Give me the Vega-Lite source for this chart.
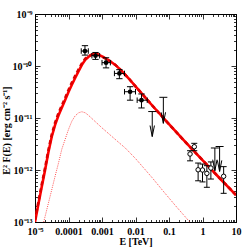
{
  "$schema": "https://vega.github.io/schema/vega-lite/v6.json",
  "autosize": {"type": "none"},
  "padding": {"left": 35, "top": 14, "right": 13, "bottom": 27},
  "width": 201,
  "height": 208,
  "background": "white",
  "config": {
    "view": {"stroke": "black", "strokeWidth": 1},
    "axis": {
      "labelFont": "Liberation Serif", "labelFontWeight": "bold", "labelFontSize": 10, "labelColor": "black",
      "titleFont": "Liberation Serif", "titleFontWeight": "bold", "titleFontSize": 10, "titleColor": "black",
      "domainColor": "black", "tickColor": "black", "tickWidth": 0.8, "grid": false,
      "labelOverlap": false, "labelFlush": false, "labelBound": false
    }
  },
  "datasets": {
    "curves": [
      {"m": "total", "E": 1e-5, "F": 1.0e-13},
      {"m": "total", "E": 1.26e-5, "F": 2.19e-13},
      {"m": "total", "E": 1.58e-5, "F": 4.68e-13},
      {"m": "total", "E": 2.0e-5, "F": 1.0e-12},
      {"m": "total", "E": 2.51e-5, "F": 2.19e-12},
      {"m": "total", "E": 3.16e-5, "F": 4.37e-12},
      {"m": "total", "E": 3.98e-5, "F": 7.4e-12},
      {"m": "total", "E": 5.01e-5, "F": 1.12e-11},
      {"m": "total", "E": 6.31e-5, "F": 1.58e-11},
      {"m": "total", "E": 7.94e-5, "F": 2.22e-11},
      {"m": "total", "E": 1.0e-4, "F": 3.16e-11},
      {"m": "total", "E": 1.26e-4, "F": 4.37e-11},
      {"m": "total", "E": 1.58e-4, "F": 5.89e-11},
      {"m": "total", "E": 2.0e-4, "F": 7.94e-11},
      {"m": "total", "E": 2.51e-4, "F": 1.05e-10},
      {"m": "total", "E": 3.16e-4, "F": 1.32e-10},
      {"m": "total", "E": 3.98e-4, "F": 1.51e-10},
      {"m": "total", "E": 5.01e-4, "F": 1.66e-10},
      {"m": "total", "E": 6.31e-4, "F": 1.70e-10},
      {"m": "total", "E": 7.94e-4, "F": 1.64e-10},
      {"m": "total", "E": 1.0e-3, "F": 1.53e-10},
      {"m": "total", "E": 1.58e-3, "F": 1.29e-10},
      {"m": "total", "E": 2.51e-3, "F": 1.05e-10},
      {"m": "total", "E": 3.98e-3, "F": 7.9e-11},
      {"m": "total", "E": 6.31e-3, "F": 5.75e-11},
      {"m": "total", "E": 1.0e-2, "F": 4.07e-11},
      {"m": "total", "E": 3.16e-2, "F": 1.74e-11},
      {"m": "total", "E": 0.1, "F": 7.6e-12},
      {"m": "total", "E": 0.316, "F": 3.39e-12},
      {"m": "total", "E": 1.0, "F": 1.55e-12},
      {"m": "total", "E": 3.16, "F": 7.1e-13},
      {"m": "total", "E": 10.0, "F": 3.3e-13},
      {"m": "dash", "E": 1e-5, "F": 1.1e-13},
      {"m": "dash", "E": 1.26e-5, "F": 2.4e-13},
      {"m": "dash", "E": 1.58e-5, "F": 5.13e-13},
      {"m": "dash", "E": 2.0e-5, "F": 1.1e-12},
      {"m": "dash", "E": 2.51e-5, "F": 2.4e-12},
      {"m": "dash", "E": 3.16e-5, "F": 4.8e-12},
      {"m": "dash", "E": 3.98e-5, "F": 8.1e-12},
      {"m": "dash", "E": 5.01e-5, "F": 1.23e-11},
      {"m": "dash", "E": 6.31e-5, "F": 1.73e-11},
      {"m": "dash", "E": 7.94e-5, "F": 2.43e-11},
      {"m": "dash", "E": 1.0e-4, "F": 3.46e-11},
      {"m": "dash", "E": 1.26e-4, "F": 4.79e-11},
      {"m": "dash", "E": 1.58e-4, "F": 6.45e-11},
      {"m": "dash", "E": 2.0e-4, "F": 8.6e-11},
      {"m": "dash", "E": 2.51e-4, "F": 1.12e-10},
      {"m": "dash", "E": 3.16e-4, "F": 1.38e-10},
      {"m": "dash", "E": 3.98e-4, "F": 1.55e-10},
      {"m": "dash", "E": 5.01e-4, "F": 1.67e-10},
      {"m": "dash", "E": 6.31e-4, "F": 1.70e-10},
      {"m": "dash", "E": 7.94e-4, "F": 1.64e-10},
      {"m": "dash", "E": 1.0e-3, "F": 1.53e-10},
      {"m": "dash", "E": 1.58e-3, "F": 1.29e-10},
      {"m": "dash", "E": 2.51e-3, "F": 1.05e-10},
      {"m": "dash", "E": 3.98e-3, "F": 7.9e-11},
      {"m": "dash", "E": 6.31e-3, "F": 5.75e-11},
      {"m": "dash", "E": 1.0e-2, "F": 4.07e-11},
      {"m": "dash", "E": 3.16e-2, "F": 1.74e-11},
      {"m": "dash", "E": 0.1, "F": 7.6e-12},
      {"m": "dash", "E": 0.316, "F": 3.39e-12},
      {"m": "dash", "E": 1.0, "F": 1.55e-12},
      {"m": "dash", "E": 3.16, "F": 7.1e-13},
      {"m": "dash", "E": 10.0, "F": 3.3e-13},
      {"m": "dot", "E": 1.82e-5, "F": 1.0e-13},
      {"m": "dot", "E": 2.51e-5, "F": 2.29e-13},
      {"m": "dot", "E": 3.16e-5, "F": 4.17e-13},
      {"m": "dot", "E": 3.98e-5, "F": 7.59e-13},
      {"m": "dot", "E": 5.01e-5, "F": 1.35e-12},
      {"m": "dot", "E": 6.31e-5, "F": 2.51e-12},
      {"m": "dot", "E": 7.94e-5, "F": 3.89e-12},
      {"m": "dot", "E": 1.0e-4, "F": 6.03e-12},
      {"m": "dot", "E": 1.26e-4, "F": 8.71e-12},
      {"m": "dot", "E": 1.58e-4, "F": 1.10e-11},
      {"m": "dot", "E": 2.0e-4, "F": 1.26e-11},
      {"m": "dot", "E": 2.51e-4, "F": 1.32e-11},
      {"m": "dot", "E": 3.16e-4, "F": 1.26e-11},
      {"m": "dot", "E": 3.98e-4, "F": 1.12e-11},
      {"m": "dot", "E": 6.31e-4, "F": 8.5e-12},
      {"m": "dot", "E": 1.0e-3, "F": 6.46e-12},
      {"m": "dot", "E": 1.78e-3, "F": 4.68e-12},
      {"m": "dot", "E": 3.16e-3, "F": 3.39e-12},
      {"m": "dot", "E": 5.01e-3, "F": 2.63e-12},
      {"m": "dot", "E": 1.0e-2, "F": 1.66e-12},
      {"m": "dot", "E": 3.16e-2, "F": 7.08e-13},
      {"m": "dot", "E": 6.31e-2, "F": 4.12e-13},
      {"m": "dot", "E": 0.158, "F": 2.04e-13},
      {"m": "dot", "E": 0.417, "F": 1.0e-13}
    ],
    "pts": [
      {"E": 3.1e-4, "F": 1.94e-10, "Elo": 2.4e-4, "Ehi": 3.9e-4, "Flo": 1.62e-10, "Fhi": 2.46e-10},
      {"E": 6.4e-4, "F": 1.58e-10, "Elo": 5.0e-4, "Ehi": 8.5e-4, "Flo": 1.34e-10, "Fhi": 1.82e-10},
      {"E": 1.32e-3, "F": 1.16e-10, "Elo": 1.0e-3, "Ehi": 1.78e-3, "Flo": 9.2e-11, "Fhi": 1.44e-10},
      {"E": 3.3e-3, "F": 7.2e-11, "Elo": 2.35e-3, "Ehi": 4.7e-3, "Flo": 5.7e-11, "Fhi": 8.5e-11},
      {"E": 6.9e-3, "F": 3.2e-11, "Elo": 4.7e-3, "Ehi": 1.0e-2, "Flo": 2.2e-11, "Fhi": 4.0e-11},
      {"E": 1.51e-2, "F": 2.2e-11, "Elo": 1.12e-2, "Ehi": 2.24e-2, "Flo": 1.56e-11, "Fhi": 2.9e-11}
    ],
    "opts": [
      {"E": 0.425, "F": 2.03e-12, "Flo": 1.5e-12, "Fhi": 2.35e-12},
      {"E": 0.569, "F": 2.8e-12, "Flo": 2.35e-12, "Fhi": 3.26e-12},
      {"E": 0.74, "F": 1.01e-12, "Flo": 6.2e-13, "Fhi": 1.36e-12},
      {"E": 1.0, "F": 1.0e-12, "Flo": 5.9e-13, "Fhi": 1.3e-12},
      {"E": 1.35, "F": 8.6e-13, "Flo": 4.65e-13, "Fhi": 1.21e-12},
      {"E": 1.78, "F": 1.09e-12, "Flo": 6.7e-13, "Fhi": 1.43e-12},
      {"E": 4.28, "F": 7.57e-13, "Flo": 3.56e-13, "Fhi": 1.16e-12}
    ],
    "uls": [
      {"E": 0.0316, "Ftop": 1.33e-11, "Ftip": 4.4e-12},
      {"E": 0.0678, "Ftop": 2.5e-11, "Ftip": 7.9e-12},
      {"E": 2.34, "Ftop": 2.65e-12, "Ftip": 9.7e-13},
      {"E": 3.24, "Ftop": 2.83e-12, "Ftip": 9.4e-13}
    ]
  },
  "resolve": {"axis": {"x": "independent", "y": "independent"}},
  "layer": [
    {
      "data": {"name": "curves"},
      "transform": [{"filter": "datum.m == 'dot'"}],
      "mark": {"type": "line", "color": "#ff0000", "opacity": 0.7, "strokeWidth": 1, "strokeDash": [1, 1.2], "clip": true},
      "encoding": {
        "x": {"field": "E", "type": "quantitative",
          "scale": {"type": "log", "domain": [1e-5, 10], "nice": false},
          "axis": {"orient": "bottom", "title": "E [TeV]", "titleY": 19, "titleBaseline": "middle",
            "labelPadding": 9,
            "values": [1e-5,2e-5,3e-5,4e-5,5e-5,6e-5,7e-5,8e-5,9e-5,1e-4,2e-4,3e-4,4e-4,5e-4,6e-4,7e-4,8e-4,9e-4,1e-3,2e-3,3e-3,4e-3,5e-3,6e-3,7e-3,8e-3,9e-3,0.01,0.02,0.03,0.04,0.05,0.06,0.07,0.08,0.09,0.1,0.2,0.3,0.4,0.5,0.6,0.7,0.8,0.9,1,2,3,4,5,6,7,8,9,10],
            "labelExpr": "abs(log(datum.value)/LN10 - round(log(datum.value)/LN10)) > 0.001 ? '' : (datum.value < 5e-5 ? '10⁻⁵' : format(datum.value, '~g'))",
            "tickSize": {"condition": {"test": "abs(log(datum.value)/LN10 - round(log(datum.value)/LN10)) < 0.001", "value": -5}, "value": -2.5}
          }},
        "y": {"field": "F", "type": "quantitative",
          "scale": {"type": "log", "domain": [1e-13, 1e-9], "nice": false},
          "axis": {"orient": "left", "title": "E² F(E) [erg cm⁻² s⁻¹]", "titleX": -29, "titleY": 116, "titleAngle": 270, "titleBaseline": "middle", "titleAlign": "center",
            "labelPadding": 8,
            "values": [1e-13,2e-13,3e-13,4e-13,5e-13,6e-13,7e-13,8e-13,9e-13,1e-12,2e-12,3e-12,4e-12,5e-12,6e-12,7e-12,8e-12,9e-12,1e-11,2e-11,3e-11,4e-11,5e-11,6e-11,7e-11,8e-11,9e-11,1e-10,2e-10,3e-10,4e-10,5e-10,6e-10,7e-10,8e-10,9e-10,1e-9],
            "labelExpr": "abs(log(datum.value)/LN10 - round(log(datum.value)/LN10)) > 0.001 ? '' : (round(log(datum.value)/LN10) == -9 ? '10⁻⁹' : round(log(datum.value)/LN10) == -10 ? '10⁻¹⁰' : round(log(datum.value)/LN10) == -11 ? '10⁻¹¹' : round(log(datum.value)/LN10) == -12 ? '10⁻¹²' : '10⁻¹³')",
            "tickSize": {"condition": {"test": "abs(log(datum.value)/LN10 - round(log(datum.value)/LN10)) < 0.001", "value": -5}, "value": -2.5}
          }}
      }
    },
    {
      "data": {"name": "curves"},
      "transform": [{"filter": "datum.m == 'total'"}],
      "mark": {"type": "line", "color": "#ff0000", "strokeWidth": 2.6, "clip": true},
      "encoding": {
        "x": {"field": "E", "type": "quantitative",
          "axis": {"orient": "top", "title": null, "labels": false,
            "values": [1e-5,2e-5,3e-5,4e-5,5e-5,6e-5,7e-5,8e-5,9e-5,1e-4,2e-4,3e-4,4e-4,5e-4,6e-4,7e-4,8e-4,9e-4,1e-3,2e-3,3e-3,4e-3,5e-3,6e-3,7e-3,8e-3,9e-3,0.01,0.02,0.03,0.04,0.05,0.06,0.07,0.08,0.09,0.1,0.2,0.3,0.4,0.5,0.6,0.7,0.8,0.9,1,2,3,4,5,6,7,8,9,10],
            "tickSize": {"condition": {"test": "abs(log(datum.value)/LN10 - round(log(datum.value)/LN10)) < 0.001", "value": -5}, "value": -2.5}
          }},
        "y": {"field": "F", "type": "quantitative",
          "axis": {"orient": "right", "title": null, "labels": false,
            "values": [1e-13,2e-13,3e-13,4e-13,5e-13,6e-13,7e-13,8e-13,9e-13,1e-12,2e-12,3e-12,4e-12,5e-12,6e-12,7e-12,8e-12,9e-12,1e-11,2e-11,3e-11,4e-11,5e-11,6e-11,7e-11,8e-11,9e-11,1e-10,2e-10,3e-10,4e-10,5e-10,6e-10,7e-10,8e-10,9e-10,1e-9],
            "tickSize": {"condition": {"test": "abs(log(datum.value)/LN10 - round(log(datum.value)/LN10)) < 0.001", "value": -5}, "value": -2.5}
          }}
      }
    },
    {
      "data": {"name": "curves"},
      "transform": [{"filter": "datum.m == 'dash'"}],
      "mark": {"type": "line", "color": "#dd0000", "strokeWidth": 2.6, "strokeDash": [4, 3], "clip": true},
      "encoding": {
        "x": {"field": "E", "type": "quantitative", "axis": null},
        "y": {"field": "F", "type": "quantitative", "axis": null}
      }
    },
    {
      "data": {"name": "pts"},
      "mark": {"type": "rule", "color": "black", "strokeWidth": 1},
      "encoding": {
        "x": {"field": "E", "type": "quantitative", "axis": null},
        "y": {"field": "Flo", "type": "quantitative", "axis": null},
        "y2": {"field": "Fhi"}
      }
    },
    {
      "data": {"name": "pts"},
      "mark": {"type": "rule", "color": "black", "strokeWidth": 1},
      "encoding": {
        "y": {"field": "F", "type": "quantitative", "axis": null},
        "x": {"field": "Elo", "type": "quantitative", "axis": null},
        "x2": {"field": "Ehi"}
      }
    },
    {
      "data": {"name": "pts"},
      "mark": {"type": "point", "shape": "M -1 0 L 1 0", "filled": false, "stroke": "black", "strokeWidth": 1, "size": 40, "opacity": 1},
      "encoding": {
        "x": {"field": "E", "type": "quantitative", "axis": null},
        "y": {"field": "Flo", "type": "quantitative", "axis": null}
      }
    },
    {
      "data": {"name": "pts"},
      "mark": {"type": "point", "shape": "M -1 0 L 1 0", "filled": false, "stroke": "black", "strokeWidth": 1, "size": 40, "opacity": 1},
      "encoding": {
        "x": {"field": "E", "type": "quantitative", "axis": null},
        "y": {"field": "Fhi", "type": "quantitative", "axis": null}
      }
    },
    {
      "data": {"name": "pts"},
      "mark": {"type": "point", "shape": "M 0 -1 L 0 1", "filled": false, "stroke": "black", "strokeWidth": 1, "size": 30, "opacity": 1},
      "encoding": {
        "x": {"field": "Elo", "type": "quantitative", "axis": null},
        "y": {"field": "F", "type": "quantitative", "axis": null}
      }
    },
    {
      "data": {"name": "pts"},
      "mark": {"type": "point", "shape": "M 0 -1 L 0 1", "filled": false, "stroke": "black", "strokeWidth": 1, "size": 30, "opacity": 1},
      "encoding": {
        "x": {"field": "Ehi", "type": "quantitative", "axis": null},
        "y": {"field": "F", "type": "quantitative", "axis": null}
      }
    },
    {
      "data": {"name": "pts"},
      "mark": {"type": "point", "shape": "circle", "filled": true, "color": "black", "size": 22, "opacity": 1},
      "encoding": {
        "x": {"field": "E", "type": "quantitative", "axis": null},
        "y": {"field": "F", "type": "quantitative", "axis": null}
      }
    },
    {
      "data": {"name": "opts"},
      "mark": {"type": "rule", "color": "black", "strokeWidth": 1},
      "encoding": {
        "x": {"field": "E", "type": "quantitative", "axis": null},
        "y": {"field": "Flo", "type": "quantitative", "axis": null},
        "y2": {"field": "Fhi"}
      }
    },
    {
      "data": {"name": "opts"},
      "mark": {"type": "point", "shape": "M -1 0 L 1 0", "filled": false, "stroke": "black", "strokeWidth": 1, "size": 36, "opacity": 1},
      "encoding": {
        "x": {"field": "E", "type": "quantitative", "axis": null},
        "y": {"field": "Flo", "type": "quantitative", "axis": null}
      }
    },
    {
      "data": {"name": "opts"},
      "mark": {"type": "point", "shape": "M -1 0 L 1 0", "filled": false, "stroke": "black", "strokeWidth": 1, "size": 36, "opacity": 1},
      "encoding": {
        "x": {"field": "E", "type": "quantitative", "axis": null},
        "y": {"field": "Fhi", "type": "quantitative", "axis": null}
      }
    },
    {
      "data": {"name": "opts"},
      "mark": {"type": "point", "shape": "circle", "filled": true, "fill": "white", "stroke": "black", "strokeWidth": 1, "size": 20, "opacity": 1},
      "encoding": {
        "x": {"field": "E", "type": "quantitative", "axis": null},
        "y": {"field": "F", "type": "quantitative", "axis": null}
      }
    },
    {
      "data": {"name": "uls"},
      "mark": {"type": "rule", "color": "black", "strokeWidth": 1},
      "encoding": {
        "x": {"field": "E", "type": "quantitative", "axis": null},
        "y": {"field": "Ftip", "type": "quantitative", "axis": null},
        "y2": {"field": "Ftop"}
      }
    },
    {
      "data": {"name": "uls"},
      "mark": {"type": "point", "shape": "M -1 0 L 1 0", "filled": false, "stroke": "black", "strokeWidth": 1, "size": 64, "opacity": 1},
      "encoding": {
        "x": {"field": "E", "type": "quantitative", "axis": null},
        "y": {"field": "Ftop", "type": "quantitative", "axis": null}
      }
    },
    {
      "data": {"name": "uls"},
      "mark": {"type": "point", "shape": "M -0.4 -2 L 0 0 L 0.4 -2", "filled": false, "stroke": "black", "strokeWidth": 1, "size": 121, "opacity": 1},
      "encoding": {
        "x": {"field": "E", "type": "quantitative", "axis": null},
        "y": {"field": "Ftip", "type": "quantitative", "axis": null}
      }
    }
  ]
}
